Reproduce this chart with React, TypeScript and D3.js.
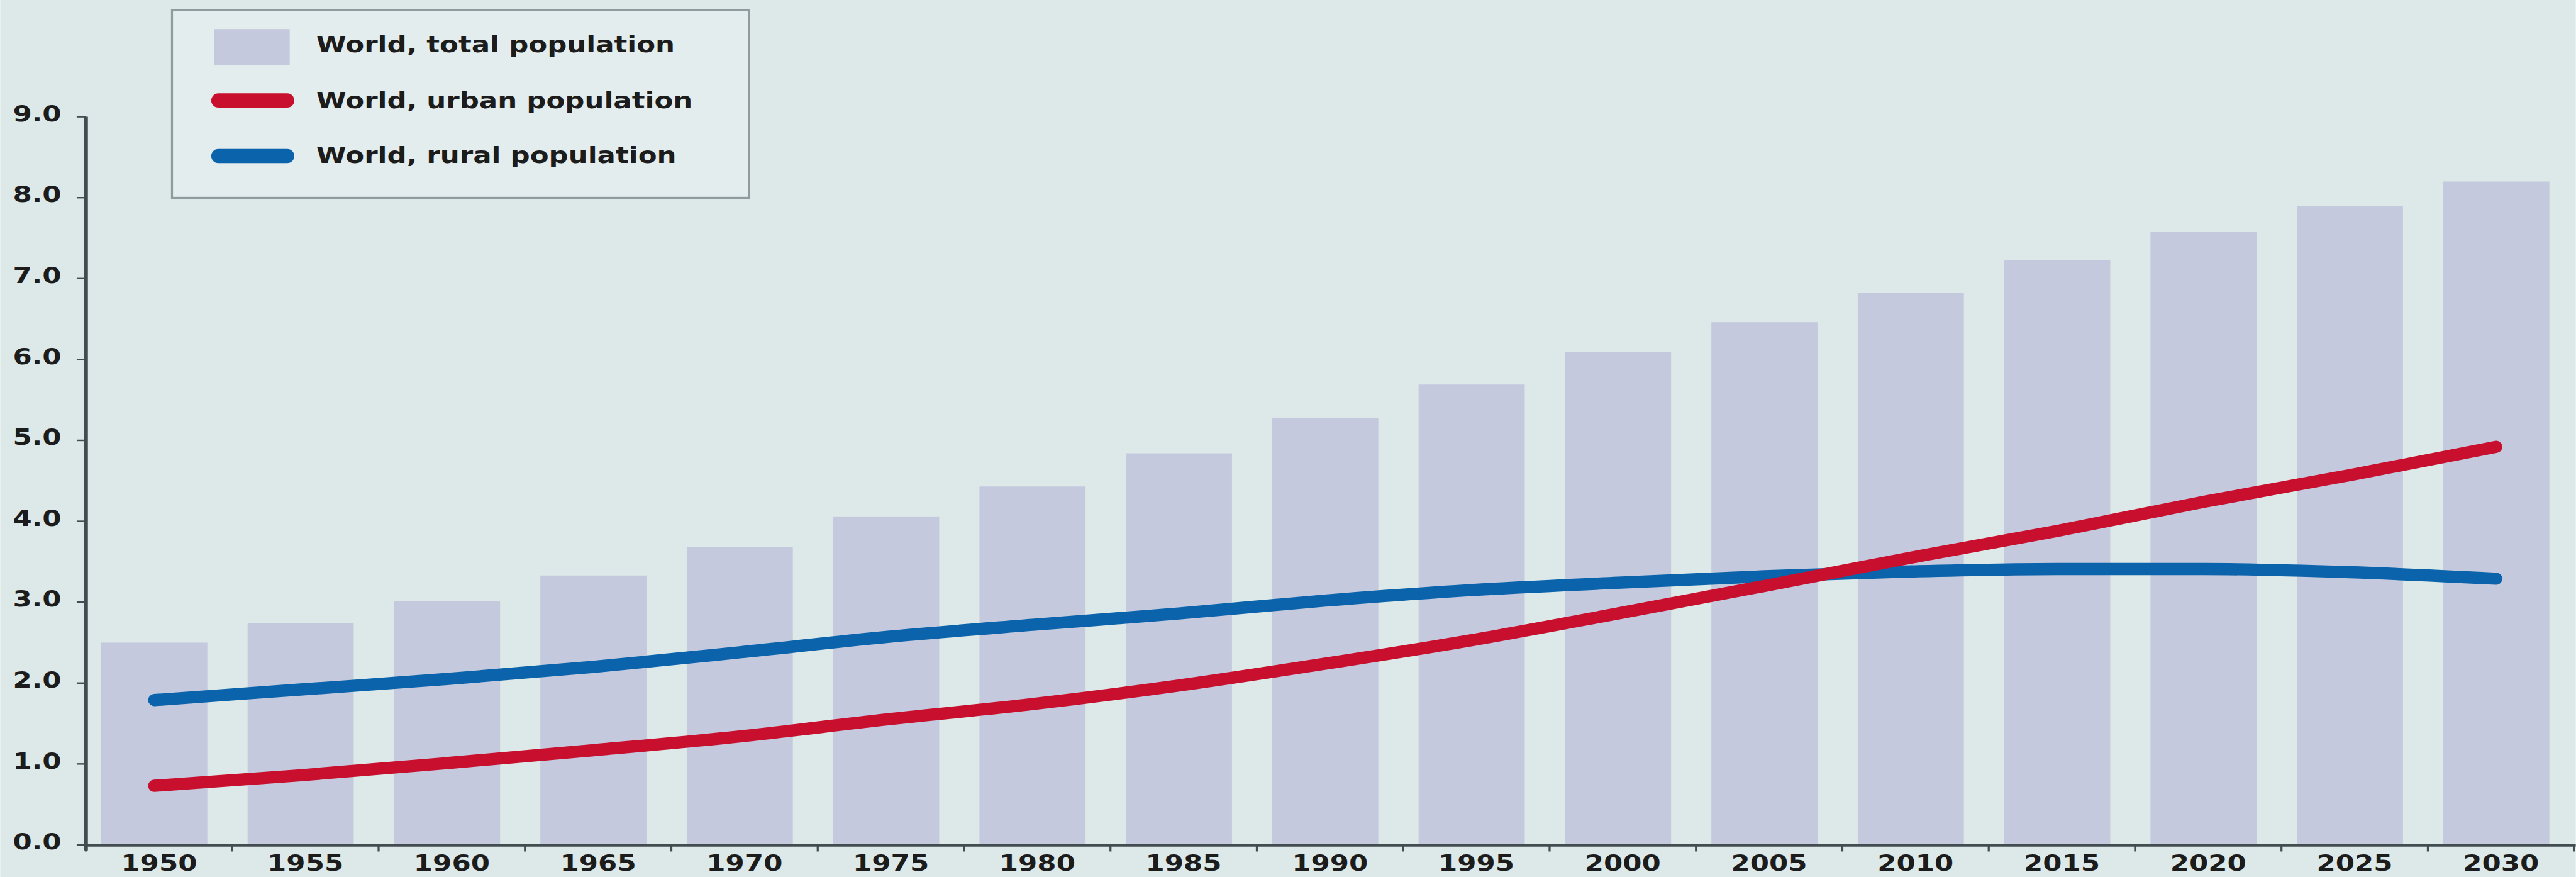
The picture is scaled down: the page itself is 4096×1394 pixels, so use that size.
import React, { useEffect } from "react";
import * as d3 from "d3";

// world population, billions
const years = ["1950", "1955", "1960", "1965", "1970", "1975", "1980", "1985", "1990", "1995", "2000", "2005", "2010", "2015", "2020", "2025", "2030"];
const totalPop = [2.5, 2.74, 3.01, 3.33, 3.68, 4.06, 4.43, 4.84, 5.28, 5.69, 6.09, 6.46, 6.82, 7.23, 7.58, 7.9, 8.2];
const urbanPop = [0.73, 0.86, 1.01, 1.17, 1.34, 1.55, 1.74, 1.97, 2.24, 2.53, 2.86, 3.2, 3.55, 3.88, 4.24, 4.57, 4.92];
const ruralPop = [1.79, 1.92, 2.05, 2.2, 2.38, 2.57, 2.72, 2.86, 3.02, 3.15, 3.24, 3.32, 3.38, 3.41, 3.41, 3.37, 3.29];
const yTicks = [0, 1, 2, 3, 4, 5, 6, 7, 8, 9];
const legendLabels = ["World, total population", "World, urban population", "World, rural population"];

const W = 5053;
const H = 1720;
const BG = "#dde9e8";
const BAR = "#c4c9de";
const RED = "#c8102e";
const BLUE = "#0b64ab";
const AXIS = "#434c50";
const FONT = "'DejaVu Sans', Verdana, sans-serif";
const stretch = 1.22;

const Label = ({ x, y, anchor, children }: any) => (
  <g transform={`translate(${x},${y}) scale(${stretch},1)`}>
    <text textAnchor={anchor} fontFamily={FONT} fontWeight="bold" fontSize={44} fill="#1c1c1c">
      {children}
    </text>
  </g>
);

const App = () => {
  useEffect(() => {
    document.body.style.margin = "0";
    document.body.style.overflow = "hidden";
  }, []);

  const x = d3.scaleBand<string>().domain(years).range([168, 5050]);
  const bw = x.bandwidth();
  const y = d3.scaleLinear().domain([0, 9]).range([1657, 229]);
  const cx = (yr: string) => (x(yr) as number) + bw * 0.467;

  const line = d3
    .line<number>()
    .x((d, i) => cx(years[i]))
    .y((d) => y(d))
    .curve(d3.curveMonotoneX);

  return (
    <svg width={4096} height={1394} viewBox={`0 0 ${W} ${H}`} style={{ display: "block" }}>
      <rect x={0} y={0} width={W} height={H} fill={BG} />

      {/* bars */}
      {years.map((yr, i) => (
        <rect
          key={yr}
          x={(x(yr) as number) + bw * 0.105}
          y={y(totalPop[i])}
          width={bw * 0.725}
          height={y(0) - y(totalPop[i])}
          fill={BAR}
        />
      ))}

      {/* lines */}
      <path d={line(ruralPop) || ""} fill="none" stroke={BLUE} strokeWidth={24} strokeLinecap="round" strokeLinejoin="round" />
      <path d={line(urbanPop) || ""} fill="none" stroke={RED} strokeWidth={24} strokeLinecap="round" strokeLinejoin="round" />

      {/* y axis */}
      <line x1={168} x2={168} y1={y(9)} y2={1668} stroke={AXIS} strokeWidth={8} />
      {yTicks.map((t) => (
        <g key={t}>
          <line x1={150} x2={168} y1={y(t)} y2={y(t)} stroke={AXIS} strokeWidth={3} />
          <Label x={120} y={y(t) + 9} anchor="end">
            {t.toFixed(1)}
          </Label>
        </g>
      ))}

      {/* x axis */}
      <line x1={164} x2={W} y1={1658} y2={1658} stroke={AXIS} strokeWidth={5} />
      {years.map((yr) => (
        <g key={yr}>
          <line x1={x(yr) as number} x2={x(yr) as number} y1={1658} y2={1670} stroke={AXIS} strokeWidth={4} />
          <Label x={(x(yr) as number) + bw / 2} y={1708} anchor="middle">
            {yr}
          </Label>
        </g>
      ))}
      <line x1={5050} x2={5050} y1={1658} y2={1670} stroke={AXIS} strokeWidth={4} />

      {/* legend */}
      <rect x={337} y={20} width={1132} height={368} fill="#e4eded" stroke="#8f9b9d" strokeWidth={4} />
      <rect x={420} y={57} width={148} height={71} fill={BAR} />
      <line x1={428} x2={563} y1={197} y2={197} stroke={RED} strokeWidth={28} strokeLinecap="round" />
      <line x1={428} x2={563} y1={306} y2={306} stroke={BLUE} strokeWidth={28} strokeLinecap="round" />
      {legendLabels.map((l, i) => (
        <Label key={l} x={620} y={[103, 212, 320][i]} anchor="start">
          {l}
        </Label>
      ))}
    </svg>
  );
};

export default App;
